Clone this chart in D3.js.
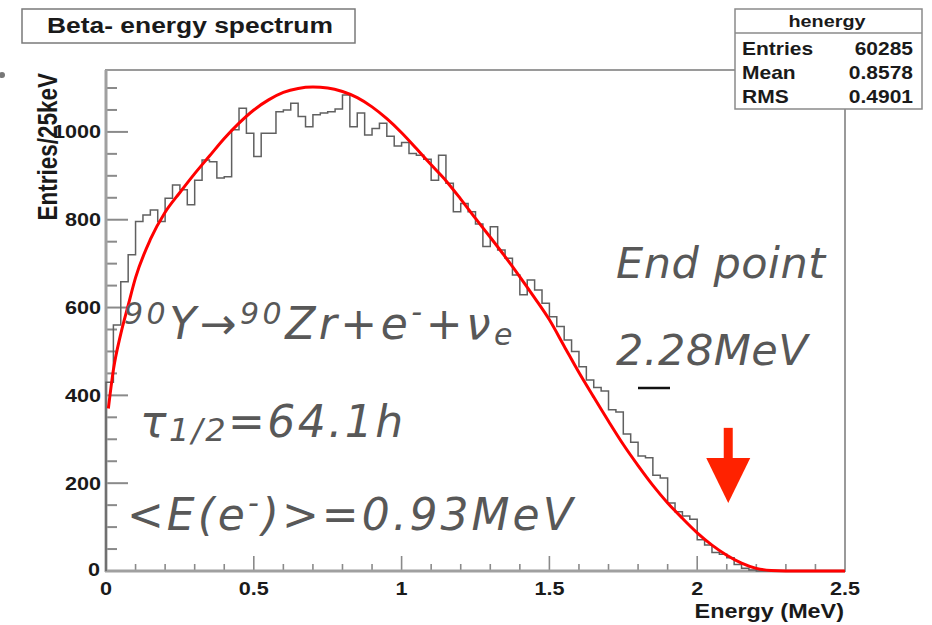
<!DOCTYPE html>
<html>
<head>
<meta charset="utf-8">
<script src="https://cdn.jsdelivr.net/npm/d3@7/dist/d3.min.js"></script>
<style>
  body { margin: 0; background: #fff; }
  svg { display: block; }
</style>
</head>
<body>
<div id="chart"></div>
<script>
var width = 932,
	height = 625;

// histogram: 100 bins of 25 keV from 0 to 2.5 MeV
var binWidth = 0.025;
var counts = [
	430, 560, 659, 720, 796, 811, 822, 796, 849, 879,
	868, 834, 890, 936, 932, 895, 898, 1005, 1054, 997,
	944, 997, 997, 1046, 1050, 1065, 1035, 1012, 1039, 1043,
	1046, 1052, 1084, 1012, 1043, 993, 1008, 1020, 990, 968,
	976, 951, 947, 938, 890, 947, 883, 818, 837, 818,
	790, 739, 784, 731, 712, 674, 629, 663, 640, 610,
	579, 557, 526, 500, 465, 435, 418, 410, 367, 362,
	312, 293, 262, 258, 218, 212, 155, 135, 125, 118,
	71, 59, 42, 38, 30, 15, 6, 2, 0, 0,
	0, 0, 0, 0, 0, 0, 0, 0, 0, 0
];

// fitted spectrum (red)
var fitE = [0.008, 0.025, 0.05, 0.075, 0.1, 0.15, 0.2, 0.25, 0.3, 0.35, 0.4, 0.45, 0.5,
	0.55, 0.6, 0.65, 0.7, 0.75, 0.8, 0.85, 0.9, 0.95, 1.0, 1.05, 1.1, 1.15, 1.2,
	1.25, 1.3, 1.35, 1.4, 1.45, 1.5, 1.55, 1.6, 1.65, 1.7, 1.75, 1.8, 1.85, 1.9,
	1.95, 2.0, 2.05, 2.1, 2.15, 2.2, 2.25, 2.3, 2.5];
var fitV = [370, 458, 540, 605, 668, 755, 817, 862, 905, 945, 985, 1020, 1050,
	1073, 1090, 1099, 1102, 1100, 1092, 1078, 1057, 1030, 998, 962, 925, 889, 847,
	803, 760, 716, 670, 622, 572, 512, 452, 396, 341, 288, 240, 195, 155,
	120, 87, 59, 36, 18, 6, 1, 0, 0];

var xTicks = [0, 0.5, 1, 1.5, 2, 2.5];
var xTickLabels = ["0", "0.5", "1", "1.5", "2", "2.5"];
var yTicks = [0, 200, 400, 600, 800, 1000];
var yTickLabels = ["0", "200", "400", "600", "800", "1000"];

var statNames = ["Entries", "Mean", "RMS"];
var statValues = ["60285", "0.8578", "0.4901"];

var frame = {left: 106, right: 845, top: 70, bottom: 571};
var rootFont = "'Liberation Sans', Arial, Helvetica, sans-serif";
var noteFont = "'DejaVu Sans', Verdana, sans-serif";
var stretch = 1.2; // the ROOT part of the picture is stretched horizontally

var x = d3.scaleLinear().domain([0, 2.5]).range([frame.left, frame.right]);
var y = d3.scaleLinear().domain([0, 1141]).range([frame.bottom, frame.top]);

var svg = d3.select("#chart").append("svg")
	.attr("width", width)
	.attr("height", height);

svg.append("rect").attr("width", width).attr("height", height).attr("fill", "#fff");

function rootText(g, px, py, str, size, anchor) {
	return g.append("text")
		.attr("transform", "translate(" + px + "," + py + ") scale(" + stretch + ",1)")
		.attr("text-anchor", anchor || "start")
		.attr("font-family", rootFont)
		.attr("font-weight", "bold")
		.attr("font-size", size)
		.attr("fill", "#1a1a1a")
		.text(str);
}

// frame
svg.append("rect")
	.attr("x", frame.left).attr("y", frame.top)
	.attr("width", frame.right - frame.left)
	.attr("height", frame.bottom - frame.top)
	.attr("fill", "none")
	.attr("stroke", "#9a9a9a")
	.attr("stroke-width", 2);

// y ticks (major + minor)
var yMinor = d3.range(50, 1141, 50);
svg.append("g").selectAll("line")
	.data(yMinor)
	.enter().append("line")
	.attr("x1", frame.left)
	.attr("x2", function(d) { return frame.left + (d % 200 === 0 ? 22 : 11); })
	.attr("y1", function(d) { return y(d); })
	.attr("y2", function(d) { return y(d); })
	.attr("stroke", "#8a8a8a")
	.attr("stroke-width", 2);

// x ticks (major + minor)
var xMinor = d3.range(1, 25).map(function(i) { return i / 10; });
svg.append("g").selectAll("line")
	.data(xMinor)
	.enter().append("line")
	.attr("x1", function(d) { return x(d); })
	.attr("x2", function(d) { return x(d); })
	.attr("y1", frame.bottom)
	.attr("y2", function(d) { return frame.bottom - (Math.round(d * 10) % 5 === 0 ? 15 : 7); })
	.attr("stroke", "#8a8a8a")
	.attr("stroke-width", 1.6);

// axis lines a bit heavier
svg.append("line")
	.attr("x1", frame.left).attr("x2", frame.left)
	.attr("y1", frame.top).attr("y2", frame.bottom + 1)
	.attr("stroke", "#a0a0a0").attr("stroke-width", 3);
svg.append("line")
	.attr("x1", frame.left - 1).attr("x2", frame.right)
	.attr("y1", frame.bottom).attr("y2", frame.bottom)
	.attr("stroke", "#a0a0a0").attr("stroke-width", 3);

// histogram outline
var pts = [[x(0), y(0)]];
counts.forEach(function(c, i) {
	pts.push([x(i * binWidth), y(c)]);
	pts.push([x((i + 1) * binWidth), y(c)]);
});
pts.push([x(2.5), y(0)]);

svg.append("path")
	.datum(pts)
	.attr("d", d3.line())
	.attr("fill", "none")
	.attr("stroke", "#606060")
	.attr("stroke-width", 1.5);

// fit curve
var fit = fitE.map(function(e, i) { return [e, fitV[i]]; });
svg.append("path")
	.datum(fit)
	.attr("d", d3.line()
		.x(function(d) { return x(d[0]); })
		.y(function(d) { return y(d[1]); })
		.curve(d3.curveMonotoneX))
	.attr("fill", "none")
	.attr("stroke", "#ff0000")
	.attr("stroke-width", 3);

// tick labels
yTicks.forEach(function(t, i) {
	if (t === 0) return;
	rootText(svg, 101, y(t) + 6.5, yTickLabels[i], 18, "end");
});
rootText(svg, 100, y(0) + 5, "0", 18, "end");
xTicks.forEach(function(t, i) {
	rootText(svg, x(t), 595, xTickLabels[i], 18, "middle");
});

// axis titles
rootText(svg, 844, 618, "Energy (MeV)", 19.5, "end");
svg.append("text")
	.attr("transform", "translate(57,73) scale(" + stretch + ",1) rotate(-90)")
	.attr("text-anchor", "end")
	.attr("font-family", rootFont)
	.attr("font-weight", "bold")
	.attr("font-size", 22.5)
	.attr("fill", "#1a1a1a")
	.text("Entries/25keV");

// title box
svg.append("rect")
	.attr("x", 22).attr("y", 9).attr("width", 333).attr("height", 34)
	.attr("fill", "#fff").attr("stroke", "#7a7a7a").attr("stroke-width", 1.5);
rootText(svg, 190, 33, "Beta- energy spectrum", 22, "middle");

// stats box
svg.append("rect")
	.attr("x", 735).attr("y", 9).attr("width", 187).attr("height", 100)
	.attr("fill", "#fff").attr("stroke", "#8a8a8a").attr("stroke-width", 1.5);
svg.append("line")
	.attr("x1", 735).attr("x2", 922).attr("y1", 33).attr("y2", 33)
	.attr("stroke", "#8a8a8a").attr("stroke-width", 1.5);
rootText(svg, 827, 27, "henergy", 16.5, "middle");
statNames.forEach(function(n, i) {
	rootText(svg, 742, 55 + i * 24, n, 17.5, "start");
	rootText(svg, 913, 55 + i * 24, statValues[i], 17.5, "end");
});

// stray bullet from the slide
svg.append("circle").attr("cx", 2).attr("cy", 75).attr("r", 3).attr("fill", "#777");

// annotations
var notes = svg.append("g")
	.attr("font-family", noteFont)
	.attr("font-style", "italic")
	.attr("fill", "#585858");

var t1 = notes.append("text").attr("x", 124).attr("y", 339).attr("font-size", 44)
	.attr("letter-spacing", 3.5);
t1.append("tspan").attr("font-size", 30).attr("dy", -15).text("90");
t1.append("tspan").attr("dy", 15).text("Y\u2192");
t1.append("tspan").attr("font-size", 30).attr("dy", -15).text("90");
t1.append("tspan").attr("dy", 15).text("Zr+e");
t1.append("tspan").attr("font-size", 30).attr("dy", -17).text("-");
t1.append("tspan").attr("dy", 17).text("+\u03bd");
t1.append("tspan").attr("font-size", 30).attr("dy", 6).text("e");

var t2 = notes.append("text").attr("x", 140).attr("y", 437).attr("font-size", 44)
	.attr("letter-spacing", 2.5);
t2.append("tspan").text("\u03c4");
t2.append("tspan").attr("font-size", 32).attr("dy", 4).text("1/2");
t2.append("tspan").attr("dy", -4).text("=64.1h");

var t3 = notes.append("text").attr("x", 127).attr("y", 530).attr("font-size", 44)
	.attr("letter-spacing", 3);
t3.append("tspan").text("<E(e");
t3.append("tspan").attr("font-size", 30).attr("dy", -17).text("-");
t3.append("tspan").attr("dy", 17).text(")>=0.93MeV");

notes.append("text").attr("x", 616).attr("y", 278).attr("font-size", 43)
	.attr("letter-spacing", 0.5).text("End point");
notes.append("text").attr("x", 616).attr("y", 365).attr("font-size", 43)
	.attr("letter-spacing", 0.5).text("2.28MeV");

// underline mark and red arrow at the end point
svg.append("line")
	.attr("x1", 638).attr("x2", 670).attr("y1", 388).attr("y2", 388)
	.attr("stroke", "#111").attr("stroke-width", 2.5);

var arrowE = 2.105;
var ax = x(arrowE);
svg.append("rect")
	.attr("x", ax - 4.5).attr("y", y(326))
	.attr("width", 9).attr("height", y(155) - y(326) - 40)
	.attr("fill", "#ff2200");
svg.append("path")
	.attr("d", "M" + (ax - 22) + "," + (y(155) - 45) + "L" + (ax + 22) + "," + (y(155) - 45) + "L" + ax + "," + y(155) + "Z")
	.attr("fill", "#ff2200");
</script>
</body>
</html>
